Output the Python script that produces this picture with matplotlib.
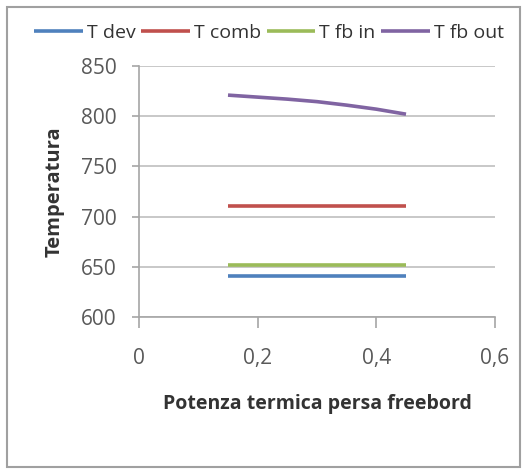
import matplotlib

matplotlib.use("Agg")
import matplotlib.pyplot as plt
from matplotlib.patches import Rectangle

# data
x = [0.15, 0.2, 0.25, 0.3, 0.35, 0.4, 0.45]
t_dev = [641, 641, 641, 641, 641, 641, 641]
t_comb = [711, 711, 711, 711, 711, 711, 711]
t_fb_in = [652, 652, 652, 652, 652, 652, 652]
t_fb_out = [821, 819, 817, 814.5, 811, 807, 802]

labels = ["T dev", "T comb", "T fb in", "T fb out"]
colors = ["#4F81BD", "#C0504D", "#9BBB59", "#8064A2"]
xticks = [0, 0.2, 0.4, 0.6]
xticklabels = ["0", "0,2", "0,4", "0,6"]
yticks = [600, 650, 700, 750, 800, 850]

plt.rcParams["font.family"] = ["Open Sans", "DejaVu Sans"]

fig = plt.figure(figsize=(5.28, 4.69), dpi=100)
fig.patches.append(Rectangle((7 / 528, 2 / 469), 513 / 528, 460 / 469, transform=fig.transFigure,
                             fill=False, edgecolor="#a0a0a0", linewidth=1.5))

ax = fig.add_axes([139 / 528, 1 - 317 / 469, (495 - 139) / 528, (317 - 66) / 469])
series = [t_dev, t_comb, t_fb_in, t_fb_out]
for ys, lab, c in zip(series, labels, colors):
    ax.plot(x, ys, color=c, lw=2.6, label=lab, solid_capstyle="butt")

ax.set_xlim(0, 0.6)
ax.set_ylim(600, 850)
ax.set_xticks(xticks)
ax.set_xticklabels(xticklabels)
ax.set_yticks(yticks)
ax.yaxis.grid(True, color="#bfbfbf", lw=1.2)
ax.set_axisbelow(True)
for s in ("top", "right"):
    ax.spines[s].set_visible(False)
for s in ("left", "bottom"):
    ax.spines[s].set_color("#a6a6a6")
    ax.spines[s].set_linewidth(1.2)
ax.tick_params(axis="both", colors="#a6a6a6", labelcolor="#595959", labelsize=15, width=1.2)
ax.tick_params(axis="x", length=8, pad=14)
ax.tick_params(axis="y", length=5, pad=11)

ax.set_ylabel("Temperatura", fontsize=14.5, fontweight="bold", color="#333333", labelpad=12)
ax.set_xlabel("Potenza termica persa freebord", fontsize=14, fontweight="bold", color="#333333",
              labelpad=18)

fig.legend(loc="center", bbox_to_anchor=(269 / 528, 1 - 33 / 469), ncol=4, frameon=False,
           fontsize=14, handlelength=2.5, handletextpad=0.2, columnspacing=0.3,
           labelcolor="#333333")

fig.savefig("out.png", dpi=100)
